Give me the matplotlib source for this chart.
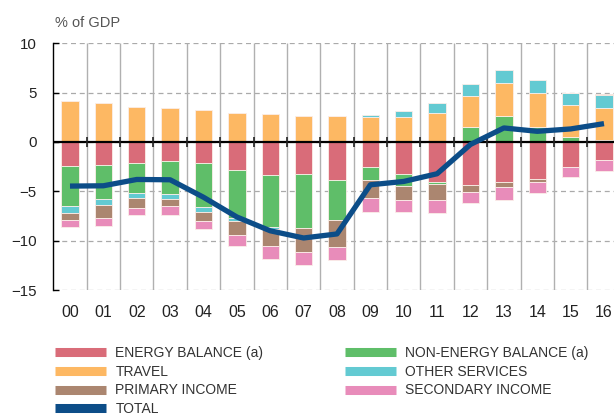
import matplotlib
matplotlib.use("Agg")
import matplotlib.pyplot as plt
from matplotlib.lines import Line2D
import numpy as np

plt.rcParams['font.family'] = ['Liberation Sans', 'DejaVu Sans']

# Data (% of GDP)
years = ['00', '01', '02', '03', '04', '05', '06', '07', '08',
         '09', '10', '11', '12', '13', '14', '15', '16']
energy = [-2.47, -2.31, -2.10, -1.90, -2.10, -2.81, -3.32, -3.22, -3.83,
          -2.58, -3.25, -4.07, -4.34, -4.07, -3.80, -2.58, -1.86]
non_energy = [-3.97, -3.49, -3.09, -3.42, -4.44, -4.92, -5.32, -5.49, -4.07,
              -1.32, -1.19, -0.17, 1.49, 2.61, 1.53, 0.47, 0.24]
travel = [4.14, 3.97, 3.56, 3.46, 3.22, 2.95, 2.85, 2.68, 2.64,
          2.51, 2.58, 2.95, 3.19, 3.39, 3.45, 3.26, 3.25]
other_services = [-0.78, -0.61, -0.50, -0.48, -0.54, -0.24, -0.21, -0.05, 0.0,
                  0.20, 0.54, 0.98, 1.18, 1.29, 1.26, 1.19, 1.32]
primary_income = [-0.64, -1.28, -0.99, -0.64, -0.89, -1.45, -1.69, -2.41, -2.71,
                  -1.79, -1.39, -1.69, -0.68, -0.54, -0.30, 0.0, 0.10]
secondary_income = [-0.78, -0.78, -0.71, -0.98, -0.88, -1.12, -1.36, -1.29, -1.36,
                    -1.36, -1.25, -1.26, -1.15, -1.22, -1.09, -1.01, -1.06]
total = [-4.47, -4.44, -3.80, -3.83, -5.60, -7.60, -9.00, -9.73, -9.32,
         -4.34, -4.00, -3.22, -0.25, 1.42, 1.08, 1.32, 1.86]

series = [
    ('ENERGY BALANCE (a)', energy, '#d96c79'),
    ('NON-ENERGY BALANCE (a)', non_energy, '#5fbe69'),
    ('TRAVEL', travel, '#fdb863'),
    ('OTHER SERVICES', other_services, '#63cad2'),
    ('PRIMARY INCOME', primary_income, '#ab8670'),
    ('SECONDARY INCOME', secondary_income, '#e88cba'),
]
total_color = '#0c4d88'

fig = plt.figure(figsize=(6.14, 4.15), dpi=100)
ax = fig.add_axes([0.0868, 0.3012, 0.9132, 0.5945])

x = np.arange(len(years))
pos = np.zeros(len(years))
neg = np.zeros(len(years))
for name, vals, col in series:
    v = np.array(vals)
    bottom = np.where(v >= 0, pos, neg)
    ax.bar(x, v, 0.52, bottom=bottom, color=col, edgecolor='#fbeee8',
           linewidth=0.6, zorder=2)
    pos += np.where(v >= 0, v, 0)
    neg += np.where(v < 0, v, 0)

ax.plot(x, total, color=total_color, lw=3.8, zorder=4, solid_capstyle='butt')

# grid
ax.set_ylim(-15, 10)
ax.set_xlim(-0.5, 16.3)
ax.set_yticks([-15, -10, -5, 0, 5, 10])
ax.yaxis.grid(True, color='#aaaaaa', linestyle=(0, (4, 3)), lw=0.9, zorder=0)
ax.set_axisbelow(True)
ax.vlines(np.arange(0.5, 17, 1), -15, 10, color='#b0b0b0', lw=1, zorder=1)
ax.axhline(0, color='black', lw=1.6, zorder=3)
ax.vlines(np.arange(0.5, 17, 1), -0.5, 0.5, color='#222222', lw=1.2, zorder=3)

for s in ['top', 'right', 'bottom']:
    ax.spines[s].set_visible(False)
ax.spines['left'].set_color('black')
ax.spines['left'].set_linewidth(1)

ax.set_xticks(x)
ax.set_xticklabels(years)
ax.tick_params(axis='x', length=0, pad=11, labelsize=11.5, labelcolor='#222222')
ax.tick_params(axis='y', direction='in', length=4, width=1, pad=12,
               labelsize=10.8, labelcolor='#222222')

fig.text(55 / 614, 1 - 23 / 415, '% of GDP', fontsize=10.5, color='#555555',
         va='center', ha='left')

# legend, two columns
def handle(col):
    return Line2D([0], [0], color=col, lw=6.5, solid_capstyle='butt')

col1 = [series[0], series[2], series[4]]
col2 = [series[1], series[3], series[5]]
h1 = [handle(c) for _, _, c in col1] + [handle(total_color)]
l1 = [n for n, _, _ in col1] + ['TOTAL']
h2 = [handle(c) for _, _, c in col2]
l2 = [n for n, _, _ in col2]

leg_kw = dict(frameon=False, loc='upper left', handlelength=3.7,
              handletextpad=0.65, labelspacing=0.34, borderpad=0,
              borderaxespad=0, labelcolor='#333333',
              prop={'size': 10})
fig.legend(h1, l1, bbox_to_anchor=(55 / 614, 1 - 346 / 415), **leg_kw)
fig.legend(h2, l2, bbox_to_anchor=(345 / 614, 1 - 346 / 415), **leg_kw)

fig.savefig('out.png', dpi=100)
